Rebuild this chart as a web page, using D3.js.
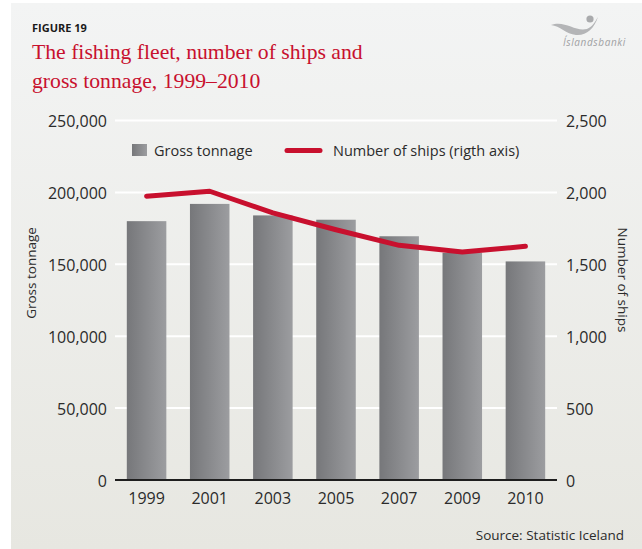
<!DOCTYPE html>
<html><head><meta charset="utf-8">
<script src="https://cdn.jsdelivr.net/npm/d3@7"></script>
<style>
html,body{margin:0;padding:0;background:#fff;}
svg{display:block;}
text{fill:#2b2b2b;}
</style></head>
<body>
<script>
const years = ["1999","2001","2003","2005","2007","2009","2010"];
const grossTonnage = [180000, 192000, 184000, 181000, 169500, 158000, 152000];
const numberOfShips = [1974, 2008, 1858, 1740, 1632, 1585, 1625];
const leftTicks = [0, 50000, 100000, 150000, 200000, 250000];
const rightTicks = [0, 500, 1000, 1500, 2000, 2500];

const W = 642, H = 549;
const SANS = "'Open Sans', sans-serif";
const svg = d3.select("body").append("svg").attr("width", W).attr("height", H)
  .style("font-family", SANS);
const defs = svg.append("defs");

const bg = defs.append("linearGradient").attr("id","bg").attr("x1",0).attr("y1",0).attr("x2",0).attr("y2",1);
bg.append("stop").attr("offset","0%").attr("stop-color","#f3f4f4");
bg.append("stop").attr("offset","100%").attr("stop-color","#e7e7e1");
const bar = defs.append("linearGradient").attr("id","bar").attr("x1",0).attr("y1",0).attr("x2",1).attr("y2",0);
bar.append("stop").attr("offset","0%").attr("stop-color","#76777a");
bar.append("stop").attr("offset","100%").attr("stop-color","#9c9da0");

svg.append("rect").attr("x",11).attr("y",3).attr("width",W-11).attr("height",H-3).attr("fill","url(#bg)");

const x0 = 115, x1 = 557, yTop = 120.5, yBot = 480;
const x = d3.scaleBand().domain(years).range([x0, x1]).paddingInner(0.374).paddingOuter(0.187);
const yL = d3.scaleLinear().domain([0, 250000]).range([yBot, yTop]);
const yR = d3.scaleLinear().domain([0, 2500]).range([yBot, yTop]);
const fmt = d3.format(",");

// gridlines
svg.append("g").selectAll("line").data(leftTicks.filter(d => d > 0)).join("line")
  .attr("x1", x0).attr("x2", x1).attr("y1", d => yL(d)).attr("y2", d => yL(d))
  .attr("stroke", "#ffffff").attr("stroke-width", 2);

// left axis
const gL = svg.append("g").attr("transform", `translate(${x0},0)`)
  .call(d3.axisLeft(yL).tickValues(leftTicks).tickFormat(fmt).tickSize(0).tickPadding(8));
gL.select(".domain").remove();
gL.selectAll("text").attr("dy", "0.4em").style("font-size", "16px").style("font-family", SANS).style("fill", "#2b2b2b");

// right axis
const gR = svg.append("g").attr("transform", `translate(${x1},0)`)
  .call(d3.axisRight(yR).tickValues(rightTicks).tickFormat(fmt).tickSize(0).tickPadding(9));
gR.select(".domain").remove();
gR.selectAll("text").attr("dy", "0.4em").style("font-size", "16px").style("font-family", SANS).style("fill", "#2b2b2b");

// bars
svg.append("g").selectAll("rect").data(grossTonnage).join("rect")
  .attr("x", (d, i) => x(years[i])).attr("width", x.bandwidth())
  .attr("y", d => yL(d)).attr("height", d => yL(0) - yL(d))
  .attr("fill", "url(#bar)");

// baseline
svg.append("line").attr("x1", x0).attr("x2", x1).attr("y1", yBot).attr("y2", yBot)
  .attr("stroke", "#1e1e1e").attr("stroke-width", 2);

// x axis
const gX = svg.append("g").attr("transform", `translate(0,${yBot})`)
  .call(d3.axisBottom(x).tickSize(0).tickPadding(13));
gX.select(".domain").remove();
gX.selectAll("text").style("font-size", "16px").style("font-family", SANS).style("fill", "#2b2b2b");

// line
const line = d3.line().x((d, i) => x(years[i]) + x.bandwidth() / 2).y(d => yR(d));
svg.append("path").datum(numberOfShips).attr("d", line)
  .attr("fill", "none").attr("stroke", "#c8102e").attr("stroke-width", 5)
  .attr("stroke-linecap", "round").attr("stroke-linejoin", "round");

// legend
svg.append("rect").attr("x", 132).attr("y", 144).attr("width", 15).attr("height", 12).attr("fill", "url(#bar)");
svg.append("text").attr("x", 154).attr("y", 155.5).style("font-size", "14.5px").text("Gross tonnage");
svg.append("line").attr("x1", 287).attr("x2", 320).attr("y1", 150.5).attr("y2", 150.5)
  .attr("stroke", "#c8102e").attr("stroke-width", 5).attr("stroke-linecap", "round");
svg.append("text").attr("x", 333).attr("y", 155.5).style("font-size", "14.5px").text("Number of ships (rigth axis)");

// axis titles
svg.append("text").attr("transform", "translate(36,273) rotate(-90)").attr("text-anchor", "middle")
  .style("font-size", "13.5px").text("Gross tonnage");
svg.append("text").attr("transform", "translate(618,280) rotate(90)").attr("text-anchor", "middle")
  .style("font-size", "13.5px").text("Number of ships");

// titles
svg.append("text").attr("x", 32).attr("y", 32).style("font-size", "11px").style("font-weight", "bold")
  .style("fill", "#1a1a1a").text("FIGURE 19");
const SERIF = "'Liberation Serif', 'DejaVu Serif', serif";
svg.append("text").attr("x", 32).attr("y", 59).style("font-size", "21.7px").style("font-family", SERIF)
  .style("fill", "#c8102e").text("The fishing fleet, number of ships and");
svg.append("text").attr("x", 32).attr("y", 88).style("font-size", "21.7px").style("font-family", SERIF)
  .style("fill", "#c8102e").text("gross tonnage, 1999–2010");

// source
svg.append("text").attr("x", 624).attr("y", 540).attr("text-anchor", "end").style("font-size", "13.5px")
  .text("Source: Statistic Iceland");

// logo
const logo = svg.append("g");
logo.append("path").attr("d", "M551,25 C565,20 575,32 587,29 C592,27 595,22 598,17 C594,29 586,36 576,35 C566,34 560,26 551,25 Z")
  .attr("fill", "#b4b5b7");
logo.append("circle").attr("cx", 590).attr("cy", 19).attr("r", 3.6).attr("fill", "#a9aaac");
logo.append("text").attr("x", 563).attr("y", 46).style("font-size", "10px").style("font-style", "italic")
  .attr("letter-spacing", 0.6).style("fill", "#a0a1a3").text("Íslandsbanki");
</script>
</body></html>
